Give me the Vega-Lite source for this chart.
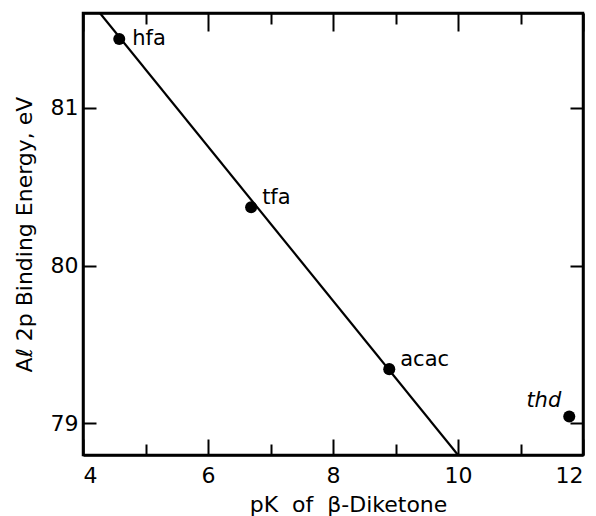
{
  "$schema": "https://vega.github.io/schema/vega-lite/v6.json",
  "autosize": "none",
  "width": 500,
  "height": 442,
  "padding": {"left": 83, "top": 13, "right": 13, "bottom": 61},
  "background": "white",
  "config": {
    "font": "DejaVu Sans",
    "view": {"stroke": "black", "strokeWidth": 2.5},
    "axis": {
      "domainColor": "black", "domainWidth": 2.5, "tickColor": "black", "tickWidth": 2,
      "grid": false, "labelColor": "black", "titleColor": "black",
      "labelFont": "DejaVu Sans", "titleFont": "DejaVu Sans",
      "labelFontSize": 22, "titleFontSize": 22, "titleFontWeight": "normal"
    }
  },
  "datasets": {
    "pts": [
      {"name": "hfa", "pK": 4.58, "BE": 81.435},
      {"name": "tfa", "pK": 6.69, "BE": 80.37},
      {"name": "acac", "pK": 8.9, "BE": 79.344},
      {"name": "thd", "pK": 11.78, "BE": 79.044}
    ],
    "fit": [
      {"pK": 4.27, "BE": 81.6},
      {"pK": 10.0, "BE": 78.8}
    ]
  },
  "layer": [
    {
      "data": {"name": "fit"},
      "mark": {"type": "line", "color": "black", "strokeWidth": 2.2, "clip": true},
      "encoding": {
        "x": {"field": "pK", "type": "quantitative", "scale": {"domain": [4, 12], "nice": false, "zero": false},
              "axis": {"orient": "bottom", "values": [4, 6, 8, 10, 12], "tickSize": -16, "labelPadding": 26, "title": "pK\u00a0 of\u00a0 β-Diketone", "titlePadding": 8, "titleX": 265}},
        "y": {"field": "BE", "type": "quantitative", "scale": {"domain": [78.8, 81.6], "nice": false, "zero": false},
              "axis": {"orient": "left", "values": [79, 80, 81], "tickSize": -13, "labelPadding": 18, "title": "Aℓ 2p Binding Energy, eV", "titlePadding": 14}}
      }
    },
    {
      "data": {"name": "pts"},
      "mark": {"type": "point", "filled": true, "color": "black", "size": 145, "opacity": 1},
      "encoding": {
        "x": {"field": "pK", "type": "quantitative", "scale": {"domain": [4, 12], "nice": false, "zero": false},
              "axis": {"orient": "bottom", "values": [5, 7, 9, 11], "tickSize": -11, "labels": false, "domain": false, "title": null}},
        "y": {"field": "BE", "type": "quantitative", "scale": {"domain": [78.8, 81.6], "nice": false, "zero": false},
              "axis": {"orient": "right", "values": [79, 80, 81], "tickSize": -13, "labels": false, "title": null}}
      }
    },
    {
      "data": {"name": "pts"},
      "transform": [{"filter": "datum.name === 'hfa'"}],
      "mark": {"type": "text", "align": "left", "baseline": "middle", "dx": 13, "dy": 0, "fontSize": 21, "color": "black"},
      "encoding": {
        "x": {"field": "pK", "type": "quantitative", "scale": {"domain": [4, 12], "nice": false, "zero": false},
              "axis": {"orient": "top", "values": [4, 6, 8, 10, 12], "tickSize": -18, "labels": false, "title": null}},
        "y": {"field": "BE", "type": "quantitative", "scale": {"domain": [78.8, 81.6], "nice": false, "zero": false}, "axis": null},
        "text": {"field": "name"}
      }
    },
    {
      "data": {"name": "pts"},
      "transform": [{"filter": "datum.name === 'tfa' || datum.name === 'acac'"}],
      "mark": {"type": "text", "align": "left", "baseline": "middle", "dx": 11, "dy": -9, "fontSize": 21, "color": "black"},
      "encoding": {
        "x": {"field": "pK", "type": "quantitative", "scale": {"domain": [4, 12], "nice": false, "zero": false},
              "axis": {"orient": "top", "values": [5, 7, 9, 11], "tickSize": -11, "labels": false, "domain": false, "title": null}},
        "y": {"field": "BE", "type": "quantitative", "scale": {"domain": [78.8, 81.6], "nice": false, "zero": false}, "axis": null},
        "text": {"field": "name"}
      }
    },
    {
      "data": {"name": "pts"},
      "transform": [{"filter": "datum.name === 'thd'"}],
      "mark": {"type": "text", "align": "right", "baseline": "middle", "dx": -8, "dy": -15, "fontSize": 21, "fontStyle": "italic", "color": "black"},
      "encoding": {
        "x": {"field": "pK", "type": "quantitative", "scale": {"domain": [4, 12], "nice": false, "zero": false}, "axis": null},
        "y": {"field": "BE", "type": "quantitative", "scale": {"domain": [78.8, 81.6], "nice": false, "zero": false}, "axis": null},
        "text": {"field": "name"}
      }
    }
  ],
  "resolve": {"axis": {"x": "independent", "y": "independent"}}
}
